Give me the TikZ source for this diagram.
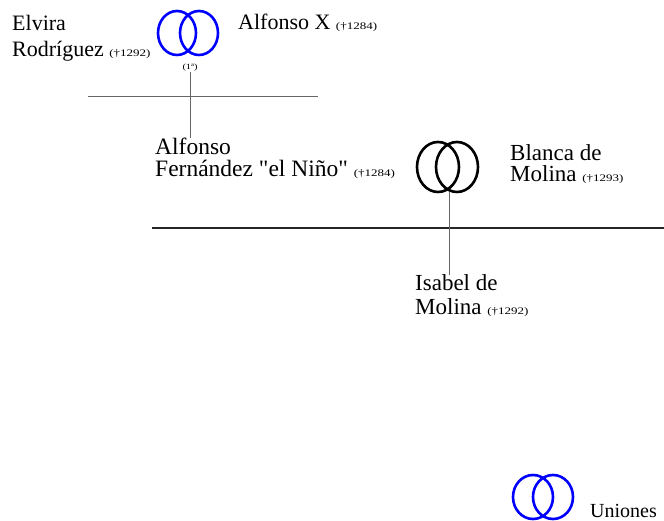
\documentclass[tikz,border=0pt]{standalone}
\usepackage{fontspec}
\setmainfont{Liberation Serif}
\newfontfamily\klein[FakeStretch=1.3]{Liberation Serif}
\usetikzlibrary{shapes.geometric}

\newcommand{\muerte}[1]{{\klein\fontsize{10}{11}\selectfont(\textdagger#1)}}

\begin{document}
\begin{tikzpicture}[x=1pt, y=-1pt]
        \tikzstyle{ring}=[ellipse,draw,line width=2.6pt,minimum width=38pt,minimum height=44pt,inner sep=0pt]
        \tikzstyle{person}=[anchor=base west,align=left,inner sep=0pt,font=\fontsize{23}{23}\selectfont]
        \tikzstyle{bar}=[draw=black!60,line width=0.9pt]

        \useasboundingbox (0,0) rectangle (664,521);

        % primera union
        \node[ring,draw=blue] (ua1) at (177,33) {};
        \node[ring,draw=blue] (ua2) at (199,33) {};
        \node[inner sep=0pt,font=\klein\fontsize{8}{9}\selectfont] (nota) at (190,68) {(1ª)};
        \node[person,font=\fontsize{22}{26}\selectfont] (elvira) at (12,57) {Elvira\\Rodríguez \muerte{1292}};
        \node[person,font=\fontsize{22}{26}\selectfont] (alfonsoX) at (238,30) {Alfonso X \muerte{1284}};

        % segunda union
        \node[ring,draw=black,minimum width=42pt,minimum height=50pt] (ub1) at (438,167) {};
        \node[ring,draw=black,minimum width=42pt,minimum height=50pt] (ub2) at (457,167) {};
        \coordinate (k2) at (449,192);
        \node[person,font=\fontsize{23.5}{22}\selectfont] (alfonso) at (155,177) {Alfonso\\Fernández \textquotedbl el Niño\textquotedbl{} \muerte{1284}};
        \node[person,font=\fontsize{23}{21}\selectfont] (blanca) at (510,182) {Blanca de\\Molina \muerte{1293}};
        \node[person,font=\fontsize{23}{24}\selectfont] (isabel) at (415,315) {Isabel de\\Molina \muerte{1292}};

        % barras
        \coordinate (a1) at (88,96);
        \coordinate (a2) at (318,96);
        \coordinate (b1) at (152,228);
        \coordinate (b2) at (664,228);
        \draw[bar] (a1) -- (a2);
        \draw[line width=1.6pt,black!85] (b1) -- (b2);
        \draw[bar] (nota.south) -- (nota.south |- alfonso.north);
        \draw[bar] (k2) -- (k2 |- isabel.north);

        % leyenda
        \node[ring,draw=blue,minimum width=40pt] (lu1) at (533,497) {};
        \node[ring,draw=blue,minimum width=40pt] (lu2) at (553,497) {};
        \node[person,font=\fontsize{20}{21}\selectfont] (uniones) at (590,517) {Uniones};
\end{tikzpicture}
\end{document}
